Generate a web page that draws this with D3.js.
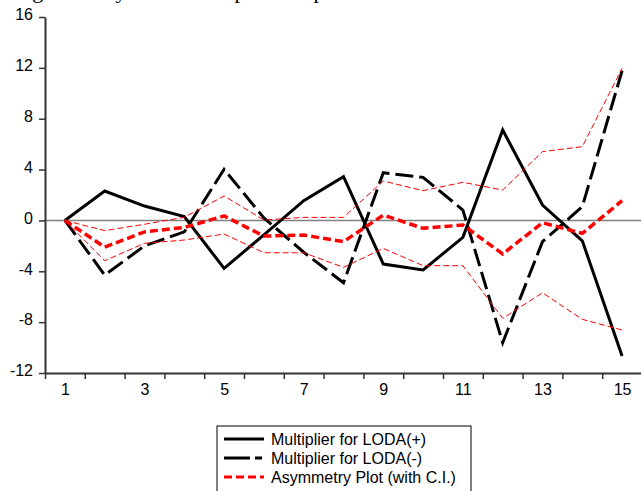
<!DOCTYPE html>
<html>
<head>
<meta charset="UTF-8">
<title>Dynamic multiplier</title>
<script src="https://cdn.jsdelivr.net/npm/d3@7"></script>
<style>
  body { margin: 0; background: #fff; }
  svg { display: block; font-family: "Liberation Sans", Arial, sans-serif; }
</style>
</head>
<body>
<svg id="chart"></svg>
<script>
// data
const periods = d3.range(1, 16);
const multPos = [0, 2.31, 1.13, 0.3, -3.77, -1.14, 1.55, 3.44, -3.43, -3.9, -1.33, 7.11, 1.21, -1.6, -10.67];
const multNeg = [0, -4.3, -2.0, -0.9, 4.02, 0.2, -2.5, -4.9, 3.75, 3.39, 0.82, -9.62, -1.67, 1.08, 11.78];
const asym = [0, -2.1, -0.9, -0.55, 0.35, -1.23, -1.15, -1.67, 0.42, -0.62, -0.36, -2.64, -0.18, -1.02, 1.55];
const upperCI = [0, -0.8, -0.3, 0.25, 1.92, 0.03, 0.24, 0.24, 3.1, 2.34, 3.0, 2.39, 5.41, 5.8, 11.97];
const lowerCI = [0, -3.17, -1.8, -1.54, -1.07, -2.54, -2.54, -3.69, -2.2, -3.56, -3.56, -7.7, -5.69, -7.78, -8.62];
const yTicks = [-12, -8, -4, 0, 4, 8, 12, 16];
const xLabels = [1, 3, 5, 7, 9, 11, 13, 15];
const legendLabels = ["Multiplier for LODA(+)", "Multiplier for LODA(-)", "Asymmetry Plot (with C.I.)"];

const width = 641, height = 491;
const svg = d3.select("#chart").attr("width", width).attr("height", height);

// title, cut off by the top edge as in the source
svg.append("text")
  .attr("x", 14).attr("y", -2)
  .style("font-family", "'Liberation Serif', 'Times New Roman', serif")
  .style("font-size", "22px")
  .text("Figure 4: Dynamic Multiplier Graph");

// scales
const x = d3.scaleLinear().domain([0.5, 15.5]).range([45, 642]);
const y = d3.scaleLinear().domain([-12, 16]).range([373, 17]);

// zero line
svg.append("line")
  .attr("x1", x(0.5)).attr("x2", width)
  .attr("y1", y(0)).attr("y2", y(0))
  .attr("stroke", "#808080").attr("stroke-width", 1.5);

// axes (plain hyphen for negatives)
const yAxis = svg.append("g")
  .attr("transform", "translate(45,0)")
  .call(d3.axisLeft(y).tickValues(yTicks).tickFormat(d => String(d))
    .tickSize(6).tickPadding(6).tickSizeOuter(0));

svg.append("g")
  .attr("transform", "translate(0,373)")
  .call(d3.axisBottom(x).tickValues(d3.range(0.5, 16, 1)).tickFormat("").tickSize(6).tickSizeOuter(0));

const xLabelAxis = svg.append("g")
  .attr("transform", "translate(0,373)")
  .call(d3.axisBottom(x).tickValues(xLabels).tickFormat(d => String(d)).tickSize(0).tickPadding(11));
xLabelAxis.select(".domain").remove();

svg.selectAll(".domain").attr("stroke", "#333").attr("stroke-width", 2);
svg.selectAll(".tick line").attr("stroke", "#333").attr("stroke-width", 1.5);
svg.selectAll(".tick text").style("font-size", "16px").attr("fill", "#000");
yAxis.selectAll(".tick text").attr("dy", "0.17em");

// series
const line = d3.line()
  .x((d, i) => x(periods[i]))
  .y(d => y(d));

const series = [
  { values: multPos, color: "#000", w: 3, dash: null },
  { values: multNeg, color: "#000", w: 3, dash: "18,6" },
  { values: upperCI, color: "#ff0000", w: 1, dash: "6,3" },
  { values: lowerCI, color: "#ff0000", w: 1, dash: "6,3" },
  { values: asym, color: "#ff0000", w: 3.5, dash: "8,4" }
];

svg.selectAll("path.series")
  .data(series)
  .join("path")
  .attr("class", "series")
  .attr("fill", "none")
  .attr("stroke", d => d.color)
  .attr("stroke-width", d => d.w)
  .attr("stroke-dasharray", d => d.dash)
  .attr("d", d => line(d.values));

// legend
const legend = svg.append("g").attr("transform", "translate(217,426)");
legend.append("rect")
  .attr("width", 254).attr("height", 80)
  .attr("fill", "#fff").attr("stroke", "#000").attr("stroke-width", 1);

const legendStyles = [
  { color: "#000", w: 3, dash: null },
  { color: "#000", w: 3, dash: "26,5,7,5" },
  { color: "#ff0000", w: 3, dash: "8,4" }
];

legendLabels.forEach((lab, i) => {
  const row = legend.append("g").attr("transform", `translate(0,${13 + i * 19})`);
  row.append("line")
    .attr("x1", 7).attr("x2", 47)
    .attr("stroke", legendStyles[i].color)
    .attr("stroke-width", legendStyles[i].w)
    .attr("stroke-dasharray", legendStyles[i].dash);
  row.append("text")
    .attr("x", 54).attr("y", 6)
    .style("font-size", "16px")
    .text(lab);
});
</script>
</body>
</html>
